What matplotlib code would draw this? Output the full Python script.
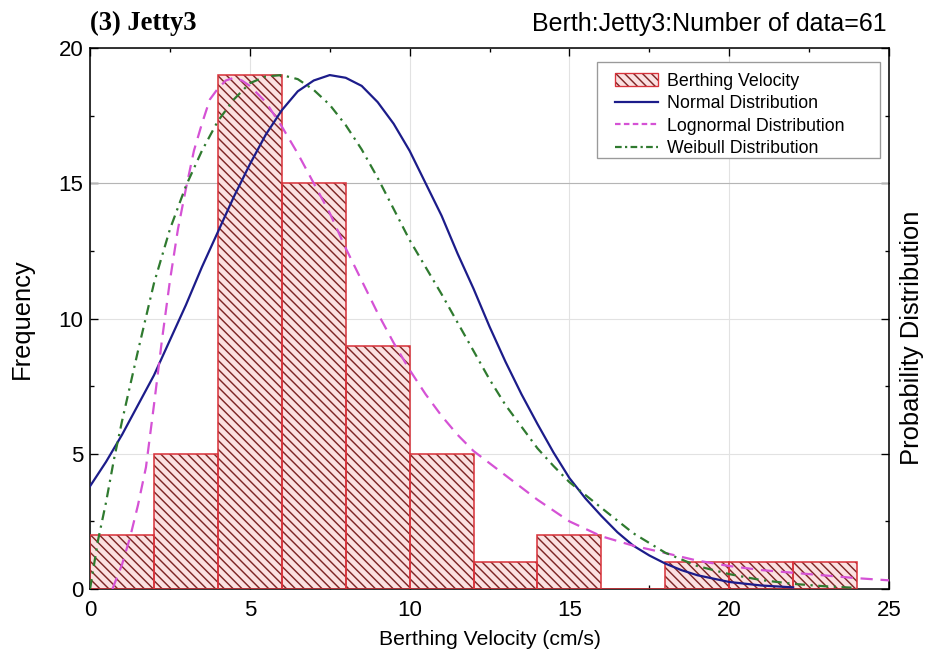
import matplotlib
matplotlib.use("Agg")
import matplotlib.pyplot as plt
from matplotlib.patches import Patch, Rectangle
from matplotlib.lines import Line2D
from matplotlib.ticker import MultipleLocator

plt.rcParams['font.family'] = ['Liberation Sans', 'DejaVu Sans']
plt.rcParams['hatch.color'] = '#7e2626'
plt.rcParams['hatch.linewidth'] = 1.3

# histogram of berthing velocity (cm/s), bin width 2
bin_left = [0, 2, 4, 6, 8, 10, 12, 14, 16, 18, 20, 22]
bin_count = [2, 5, 19, 15, 9, 5, 1, 2, 0, 1, 1, 1]

# fitted curves (scaled to frequency)
norm_x = [0, 0.5, 1, 1.5, 2, 2.5, 3, 3.5, 4, 4.5, 5, 5.5, 6, 6.5, 7, 7.5, 8, 8.5,
          9, 9.5, 10, 10.5, 11, 11.5, 12, 12.5, 13, 13.5, 14, 14.5, 15, 15.5, 16,
          16.5, 17, 17.5, 18, 18.5, 19, 20, 21, 22]
norm_y = [3.8, 4.7, 5.7, 6.8, 7.9, 9.2, 10.5, 11.9, 13.2, 14.5, 15.7, 16.8, 17.7,
          18.4, 18.8, 19.0, 18.9, 18.6, 18.0, 17.2, 16.2, 15.0, 13.8, 12.4, 11.1,
          9.7, 8.4, 7.2, 6.1, 5.05, 4.1, 3.35, 2.7, 2.1, 1.6, 1.24, 0.94, 0.7,
          0.51, 0.26, 0.13, 0.06]

logn_x = [0.7, 1.0, 1.25, 1.5, 1.75, 2.0, 2.25, 2.5, 2.75, 3.0, 3.25, 3.5, 3.75,
          4.0, 4.25, 4.5, 4.75, 5.0, 5.5, 6.0, 6.5, 7.0, 7.5, 8.0, 8.5, 9.0, 9.5,
          10, 10.5, 11, 11.5, 12, 13, 14, 15, 16, 17, 18, 19, 20, 21, 22, 23, 24, 25]
logn_y = [0, 0.9, 1.9, 3.1, 4.5, 6.8, 9.2, 11.4, 13.3, 14.8, 16.2, 17.2, 18.1,
          18.5, 18.8, 18.9, 18.8, 18.6, 18.0, 17.1, 16.1, 15.0, 13.9, 12.6, 11.4,
          10.2, 9.1, 8.1, 7.2, 6.4, 5.7, 5.1, 4.2, 3.3, 2.5, 1.95, 1.6, 1.33, 1.05,
          0.85, 0.7, 0.6, 0.5, 0.4, 0.32]

weib_x = [0, 0.25, 0.5, 0.75, 1.0, 1.25, 1.5, 2.0, 2.5, 3.0, 3.5, 4.0, 4.5, 5.0,
          5.5, 6.0, 6.5, 7.0, 7.5, 8.0, 8.5, 9.0, 9.5, 10, 10.5, 11, 11.5, 12,
          12.5, 13, 13.5, 14, 14.5, 15, 16, 17, 18, 19, 20, 21, 22, 23, 24]
weib_y = [0, 1.8, 3.2, 4.8, 6.2, 7.5, 8.8, 11.3, 13.3, 14.9, 16.2, 17.3, 18.1,
          18.7, 18.95, 19.0, 18.85, 18.45, 17.9, 17.15, 16.25, 15.2, 14.05, 12.9,
          11.9, 10.9, 9.85, 8.8, 7.75, 6.8, 6.0, 5.2, 4.55, 3.95, 3.0, 2.06, 1.34,
          0.85, 0.55, 0.33, 0.19, 0.1, 0.04]

fig = plt.figure(figsize=(932 / 80, 657 / 80), dpi=80)
ax = fig.add_axes([0.0966, 0.1035, 0.8573, 0.8234])

# hatched fill first, red outline on top
ax.bar(bin_left, bin_count, width=2, align='edge', facecolor='#fbe1e1',
       edgecolor=None, linewidth=0, hatch='\\\\\\', zorder=2)
ax.bar(bin_left, bin_count, width=2, align='edge', fill=False,
       edgecolor='#d8323a', linewidth=1.4, zorder=3)

ax.plot(norm_x, norm_y, color='#1c1c8a', lw=2.0, zorder=4)
ax.plot(logn_x, logn_y, color='#d552d5', lw=2.0, ls=(0, (5.5, 3.5)), zorder=4)
ax.plot(weib_x, weib_y, color='#2f7a2f', lw=2.0, ls=(0, (4.5, 2.5, 1, 2.5)), zorder=4)

ax.set_xlim(0, 25)
ax.set_ylim(0, 20)
ax.xaxis.set_major_locator(MultipleLocator(5))
ax.xaxis.set_minor_locator(MultipleLocator(2.5))
ax.yaxis.set_major_locator(MultipleLocator(5))
ax.yaxis.set_minor_locator(MultipleLocator(2.5))
ax.tick_params(which='both', direction='in', top=True, right=True,
               labelsize=20, width=1.2)
ax.tick_params(axis='x', pad=10)
ax.tick_params(axis='y', pad=6)
ax.tick_params(which='major', length=7)
ax.tick_params(which='minor', length=4)
ax.grid(True, which='major', color='#e2e2e2', lw=1.0, zorder=0)
ax.axhline(15, color='#b5b5b5', lw=1.0, zorder=1)
ax.set_axisbelow(True)
for s in ax.spines.values():
    s.set_linewidth(1.4)

ax.set_xlabel('Berthing Velocity (cm/s)', fontsize=19, labelpad=8)
ax.set_ylabel('Frequency', fontsize=23, labelpad=22)
fig.text(912 / 932, 1 - 338 / 657, 'Probability Distribution', fontsize=23,
         rotation=90, ha='center', va='center')

ax.text(0.0, 1.022, '(3) Jetty3', transform=ax.transAxes, fontsize=24,
        fontweight='bold', family='Liberation Serif', ha='left', va='bottom')
ax.text(0.9975, 1.022, 'Berth:Jetty3:Number of data=61', transform=ax.transAxes,
        fontsize=22.5, ha='right', va='bottom')

# legend box is wider than its contents in the original, so frame drawn separately
ax.add_patch(Rectangle((0.6345, 0.7967), 0.3542, 0.1774, transform=ax.transAxes,
                       facecolor='white', edgecolor='#9a9a9a', lw=1.2, zorder=5))
bar_handle = (Patch(facecolor='#fbe1e1', edgecolor=None, linewidth=0, hatch='\\\\\\'),
              Patch(fill=False, edgecolor='#d8323a', linewidth=1.2))
handles = [bar_handle,
           Line2D([], [], color='#1c1c8a', lw=2.0),
           Line2D([], [], color='#d552d5', lw=2.0, ls=(0, (2.5, 1.5))),
           Line2D([], [], color='#2f7a2f', lw=2.0, ls=(0, (3, 1.5, 1, 1.5)))]
labels = ['Berthing Velocity', 'Normal Distribution',
          'Lognormal Distribution', 'Weibull Distribution']
leg = ax.legend(handles, labels, loc='upper left', bbox_to_anchor=(0.657, 0.954),
                borderaxespad=0, fontsize=16, handlelength=2.4, handletextpad=0.5,
                labelspacing=0.3, borderpad=0, frameon=False)
leg.set_zorder(6)

fig.savefig('out.png', dpi=80)
